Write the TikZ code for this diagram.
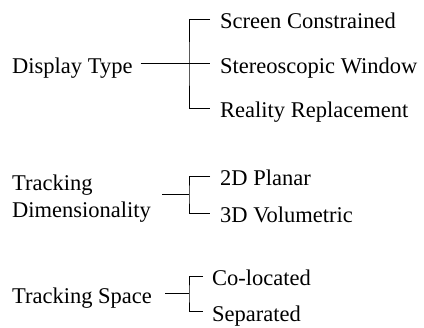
\documentclass[tikz,border=0pt]{standalone}
\usepackage{fontspec}
\setmainfont{Liberation Serif}
\usetikzlibrary{positioning}

\tikzset{
  leaf/.style={anchor=west, inner xsep=10pt, inner ysep=0pt,
    text height=19pt, text depth=0pt, font=\fontsize{22.5}{27}\selectfont},
  root/.style={anchor=west, inner sep=0pt, align=left,
    font=\fontsize{22.5}{27.5}\selectfont},
  bracket/.style={line width=0.8pt}
}

\begin{document}
\begin{tikzpicture}[x=1pt,y=-1pt]
  \useasboundingbox (0,0) rectangle (424,328);

  % display type
  \coordinate(j_disp) at (189,63.8);
  \node(disp)[root, text height=19pt, text depth=0pt] at (12,63.8){Display Type};
  \node(scr)[leaf] at (210,19.3){Screen Constrained};
  \node(ste)[leaf] at (210,63.8){Stereoscopic Window};
  \node(rea)[leaf] at (210,108.3){Reality Replacement};

  \draw[bracket, shorten <=8pt] (disp.east) -- (ste.west);
  \draw[bracket] (scr.west) -| (j_disp) |- (rea.west);

  % tracking dimensionality
  \coordinate(j_dim) at (189,194.3);
  \node(dim)[root] at (12,198.5){Tracking\\Dimensionality};
  \node(pla)[leaf] at (210,176){2D Planar};
  \node(vol)[leaf] at (210,213){3D Volumetric};

  \draw[bracket, shorten <=11pt] (dim.east |- j_dim) -- (j_dim);
  \draw[bracket] (pla.west) -| (j_dim) |- (vol.west);

  % tracking space
  \coordinate(j_spc) at (189,293.7);
  \node(spc)[root, text height=19pt, text depth=0pt] at (12,293.7){Tracking Space};
  \node(col)[leaf, inner xsep=9pt] at (203,276){Co-located};
  \node(sep)[leaf, inner xsep=9pt] at (203,311.7){Separated};

  \draw[bracket, shorten <=13pt] (spc.east) -- (j_spc);
  \draw[bracket] (col.west) -| (j_spc) |- (sep.west);
\end{tikzpicture}
\end{document}
